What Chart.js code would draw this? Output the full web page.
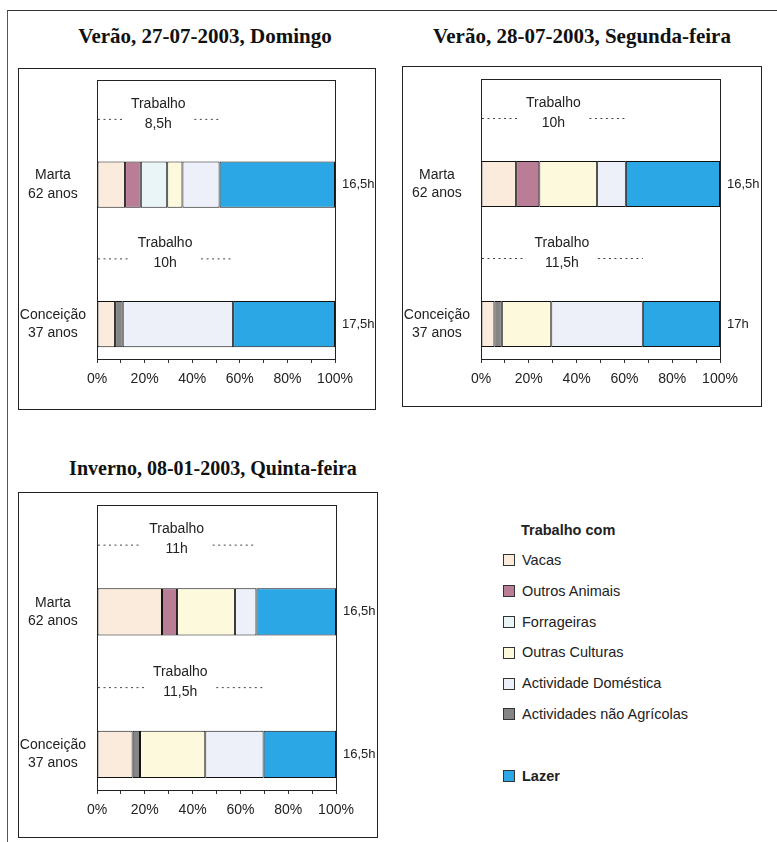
<!DOCTYPE html>
<html>
<head>
<meta charset="utf-8">
<script src="https://cdn.jsdelivr.net/npm/chart.js@4.4.1/dist/chart.umd.min.js"></script>
<style>
body { margin: 0; background: #fff; width: 777px; height: 842px; position: relative; overflow: hidden; font-family: "Liberation Sans", Arial, sans-serif; }
.frame { position: absolute; left: 7px; top: 10px; width: 790px; height: 850px; border-left: 1px solid #555; border-top: 1px solid #333; }
.title { position: absolute; font-family: "Liberation Serif", "Times New Roman", serif; font-weight: bold; font-size: 21px; color: #111; text-align: center; white-space: nowrap; }
.box { position: absolute; border: 1px solid #222; }
.box canvas { position: absolute; left: 0; top: 0; }
#legend { position: absolute; left: 503px; top: 518px; font-size: 14.5px; color: #222; }
#legend .head { font-weight: bold; margin-left: 18px; height: 27px; line-height: 24px; }
#legend .item { height: 30.8px; line-height: 30.8px; display: flex; align-items: center; }
#legend .sw { width: 10px; height: 10px; border: 1px solid #333; margin-right: 7px; }
</style>
</head>
<body>
<div class="frame"></div>

<div class="title" style="left:18px;width:374px;top:24px;">Verão, 27-07-2003, Domingo</div>
<div class="title" style="left:402px;width:360px;top:24px;">Verão, 28-07-2003, Segunda-feira</div>
<div class="title" style="left:18px;width:390px;top:457px;font-size:20px;">Inverno, 08-01-2003, Quinta-feira</div>

<div class="box" style="left:18px;top:68px;width:356px;height:340px;"><canvas id="c1" width="356" height="340"></canvas></div>
<div class="box" style="left:402px;top:66px;width:358px;height:339px;"><canvas id="c2" width="358" height="339"></canvas></div>
<div class="box" style="left:18px;top:492px;width:358px;height:344px;"><canvas id="c3" width="358" height="344"></canvas></div>

<div id="legend"></div>

<script>
// rows of each panel: an empty row for the "Trabalho" note above each person
const rowLabels = ["", ["Marta", "62 anos"], "", ["Conceição", "37 anos"]];

// stacking order inside the bars
const activities = ["Vacas", "Outros Animais", "Actividades não Agrícolas", "Forrageiras", "Outras Culturas", "Actividade Doméstica", "Lazer"];
const activityColors = ["#fbebdc", "#b97d96", "#858585", "#e9f5f7", "#fdf9dd", "#eef0f9", "#2aa7e4"];

// legend order
const legendOrder = ["Vacas", "Outros Animais", "Forrageiras", "Outras Culturas", "Actividade Doméstica", "Actividades não Agrícolas"];

// % of the day, same order as activities (null = not done)
const domingoMarta     = [11.8, 6.6, null, 11.1, 6.4, 15.6, 48.5];
const domingoConceicao = [7.6, null, 3.2, null, null, 46.4, 42.8];
const domingoTrabalho  = [8.5, 10];
const domingoTotal     = [16.5, 17.5];

const segundaMarta     = [14.7, 9.7, null, null, 24.2, 12.0, 39.4];
const segundaConceicao = [5.6, null, 3.1, null, 20.7, 38.3, 32.3];
const segundaTrabalho  = [10, 11.5];
const segundaTotal     = [16.5, 17];

const quintaMarta      = [27.2, 6.3, null, null, 24.2, 9.0, 33.3];
const quintaConceicao  = [14.9, null, 3.1, null, 27.3, 24.4, 30.3];
const quintaTrabalho   = [11, 11.5];
const quintaTotal      = [16.5, 16.5];

const xTicks = [0, 20, 40, 60, 80, 100];

const hours = (h) => String(h).replace(".", ",") + "h";

// plot frame, "Trabalho" dimension lines and totals
const workNotes = {
    id: "workNotes",
    afterDatasetsDraw(chart, args, opts) {
        const { ctx, chartArea: a, scales: { x, y } } = chart;
        const sets = chart.data.datasets;
        ctx.save();
        ctx.strokeStyle = "#222";
        ctx.lineWidth = 1;
        ctx.strokeRect(Math.round(a.left) + 0.5, Math.round(a.top) + 0.5, Math.round(a.width), Math.round(a.height));

        ctx.fillStyle = "#222";
        ctx.textBaseline = "middle";
        opts.trabalho.forEach((h, i) => {
            const row = i * 2;
            const barRow = row + 1;
            let work = 0;
            sets.slice(0, sets.length - 1).forEach(d => { work += d.data[barRow] || 0; });
            const yc = y.getPixelForValue(row);
            const x0 = x.getPixelForValue(0);
            const x1 = x.getPixelForValue(work);
            const xm = (x0 + x1) / 2;
            ctx.font = "14px 'Liberation Sans', Arial, sans-serif";
            ctx.textAlign = "center";
            ctx.fillText("Trabalho", xm, yc - 11);
            ctx.fillText(hours(h), xm, yc + 9);
            ctx.save();
            ctx.strokeStyle = "#444";
            ctx.setLineDash([2, 3.5]);
            ctx.beginPath();
            ctx.moveTo(x0 + 1, yc + 4.5);
            ctx.lineTo(xm - 36, yc + 4.5);
            ctx.moveTo(xm + 36, yc + 4.5);
            ctx.lineTo(x1, yc + 4.5);
            ctx.stroke();
            ctx.restore();
            ctx.font = "13px 'Liberation Sans', Arial, sans-serif";
            ctx.textAlign = "left";
            ctx.fillText(hours(opts.total[i]), a.right + 7, y.getPixelForValue(barRow));
        });
        ctx.restore();
    },
};

function makeChart(id, marta, conceicao, trabalho, total, pad, xHeight) {
    return new Chart(document.getElementById(id), {
        type: "bar",
        data: {
            labels: rowLabels,
            datasets: activities.map((name, k) => ({
                label: name,
                data: [null, marta[k], null, conceicao[k]],
                backgroundColor: activityColors[k],
                borderColor: "#111",
                borderWidth: 1,
                borderSkipped: false,
                barPercentage: 0.66,
                categoryPercentage: 1,
            })),
        },
        options: {
            indexAxis: "y",
            responsive: false,
            animation: false,
            layout: { padding: pad },
            plugins: {
                legend: { display: false },
                tooltip: { enabled: false },
                workNotes: { trabalho: trabalho, total: total },
            },
            scales: {
                x: {
                    stacked: true,
                    min: 0,
                    max: 100,
                    grid: { drawOnChartArea: false, drawTicks: true, tickLength: 4, color: "#333" },
                    border: { color: "#222" },
                    afterFit: (s) => { s.height = xHeight; },
                    ticks: {
                        stepSize: 10,
                        autoSkip: false,
                        maxRotation: 0,
                        padding: 8,
                        color: "#222",
                        font: { family: "'Liberation Sans', Arial, sans-serif", size: 14 },
                        callback: (v) => (xTicks.includes(v) ? v + "%" : ""),
                    },
                },
                y: {
                    stacked: true,
                    grid: { display: false },
                    border: { color: "#222" },
                    afterFit: (s) => { s.width = 78; s.paddingTop = 0; s.paddingBottom = 0; },
                    ticks: {
                        crossAlign: "center",
                        color: "#222",
                        font: { family: "'Liberation Sans', Arial, sans-serif", size: 14, lineHeight: 1.3 },
                    },
                },
            },
        },
        plugins: [workNotes],
    });
}

makeChart("c1", domingoMarta, domingoConceicao, domingoTrabalho, domingoTotal, { left: 0, right: 40, top: 11, bottom: 0 }, 50);
makeChart("c2", segundaMarta, segundaConceicao, segundaTrabalho, segundaTotal, { left: 0, right: 41, top: 12, bottom: 0 }, 47);
makeChart("c3", quintaMarta, quintaConceicao, quintaTrabalho, quintaTotal, { left: 0, right: 41, top: 12, bottom: 0 }, 47);

// legend
const legend = document.getElementById("legend");
let html = '<div class="head">Trabalho com</div>';
legendOrder.forEach((name) => {
    const c = activityColors[activities.indexOf(name)];
    html += '<div class="item"><span class="sw" style="background:' + c + '"></span>' + name + "</div>";
});
html += '<div class="item"></div>';
html += '<div class="item" style="font-weight:bold"><span class="sw" style="background:' + activityColors[6] + '"></span>Lazer</div>';
legend.innerHTML = html;
</script>
</body>
</html>
